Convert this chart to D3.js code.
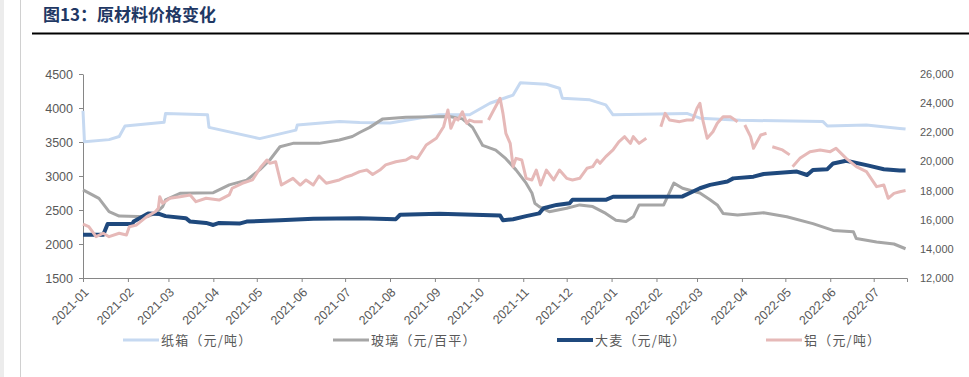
<!DOCTYPE html>
<html>
<head>
<meta charset="utf-8">
<script src="https://cdn.jsdelivr.net/npm/d3@7"></script>
<style>
  body { margin: 0; background: #fff; }
  svg { display: block; }
</style>
</head>
<body>
<svg id="chart" width="969" height="377"></svg>
<script>
// series: [date, value]
const paper = [
  ["2021-01-01", 3960], ["2021-01-02", 3505], ["2021-01-19", 3535], ["2021-01-26", 3580],
  ["2021-01-30", 3735], ["2021-02-26", 3790], ["2021-02-27", 3920], ["2021-03-28", 3900],
  ["2021-03-29", 3715], ["2021-05-03", 3550], ["2021-05-17", 3620], ["2021-05-28", 3675],
  ["2021-05-29", 3750], ["2021-06-27", 3800], ["2021-07-11", 3785], ["2021-08-01", 3780],
  ["2021-09-04", 3900], ["2021-09-25", 3900], ["2021-10-09", 4070], ["2021-10-25", 4190],
  ["2021-10-30", 4370], ["2021-11-17", 4350], ["2021-11-26", 4290], ["2021-11-28", 4145],
  ["2021-12-17", 4120], ["2021-12-28", 4045], ["2022-01-02", 3900], ["2022-02-22", 3920],
  ["2022-03-03", 3850], ["2022-03-31", 3820], ["2022-05-27", 3800], ["2022-05-30", 3735],
  ["2022-06-26", 3750], ["2022-07-19", 3700], ["2022-07-23", 3690]
];

const glass = [
  ["2021-01-01", 2795], ["2021-01-12", 2670], ["2021-01-19", 2475], ["2021-01-26", 2410],
  ["2021-02-14", 2400], ["2021-02-20", 2450], ["2021-02-25", 2550], ["2021-02-27", 2650],
  ["2021-03-09", 2745], ["2021-04-01", 2755], ["2021-04-12", 2870], ["2021-04-24", 2940],
  ["2021-05-03", 3090], ["2021-05-10", 3235], ["2021-05-17", 3430], ["2021-05-26", 3480],
  ["2021-06-13", 3480], ["2021-06-27", 3530], ["2021-07-06", 3580], ["2021-07-11", 3640],
  ["2021-07-18", 3715], ["2021-07-27", 3840], ["2021-08-12", 3865], ["2021-09-11", 3875],
  ["2021-09-20", 3840], ["2021-09-27", 3715], ["2021-10-04", 3450], ["2021-10-13", 3380],
  ["2021-10-20", 3255], ["2021-10-27", 3090], ["2021-11-03", 2895], ["2021-11-07", 2750],
  ["2021-11-09", 2600], ["2021-11-12", 2550], ["2021-11-19", 2475], ["2021-12-01", 2525],
  ["2021-12-10", 2575], ["2021-12-19", 2550], ["2021-12-28", 2450], ["2022-01-04", 2350],
  ["2022-01-11", 2330], ["2022-01-16", 2400], ["2022-01-20", 2575], ["2022-02-06", 2575],
  ["2022-02-13", 2895], ["2022-02-19", 2820], ["2022-03-03", 2750], ["2022-03-10", 2650],
  ["2022-03-15", 2575], ["2022-03-19", 2450], ["2022-03-29", 2425], ["2022-04-16", 2460],
  ["2022-05-02", 2400], ["2022-05-20", 2300], ["2022-06-03", 2200], ["2022-06-17", 2180],
  ["2022-06-19", 2080], ["2022-07-03", 2030], ["2022-07-15", 2000], ["2022-07-23", 1930]
];

const barley = [
  ["2021-01-01", 2135], ["2021-01-15", 2135], ["2021-01-18", 2295], ["2021-02-04", 2295],
  ["2021-02-05", 2330], ["2021-02-15", 2450], ["2021-02-23", 2440], ["2021-02-27", 2410],
  ["2021-03-13", 2380], ["2021-03-16", 2330], ["2021-03-27", 2310], ["2021-04-01", 2280],
  ["2021-04-05", 2310], ["2021-04-19", 2300], ["2021-04-24", 2330], ["2021-05-17", 2350],
  ["2021-06-09", 2370], ["2021-07-11", 2380], ["2021-08-05", 2365], ["2021-08-08", 2430],
  ["2021-09-04", 2445], ["2021-10-16", 2420], ["2021-10-18", 2350], ["2021-10-25", 2365],
  ["2021-11-03", 2410], ["2021-11-12", 2450], ["2021-11-15", 2525], ["2021-11-24", 2575],
  ["2021-12-03", 2600], ["2021-12-05", 2650], ["2021-12-28", 2650], ["2022-01-02", 2695],
  ["2022-02-19", 2700], ["2022-02-24", 2750], ["2022-03-03", 2820], ["2022-03-10", 2870],
  ["2022-03-22", 2920], ["2022-03-26", 2965], ["2022-04-09", 2990], ["2022-04-16", 3030],
  ["2022-05-09", 3065], ["2022-05-16", 3015], ["2022-05-20", 3090], ["2022-05-30", 3100],
  ["2022-06-03", 3185], ["2022-06-12", 3225], ["2022-06-26", 3160], ["2022-07-08", 3100],
  ["2022-07-19", 3080], ["2022-07-23", 3080]
];

// null = gap in the source data
const aluminium = [
  ["2021-01-01", 15700], ["2021-01-05", 15520], ["2021-01-10", 14835], ["2021-01-15", 15070],
  ["2021-01-19", 14835], ["2021-01-26", 15070], ["2021-01-31", 14950], ["2021-02-02", 15520],
  ["2021-02-07", 15640], ["2021-02-14", 16210], ["2021-02-20", 16550], ["2021-02-22", 16780],
  ["2021-02-23", 17580], ["2021-02-25", 17120], ["2021-03-02", 17470], ["2021-03-09", 17580],
  ["2021-03-16", 17700], ["2021-03-20", 17240], ["2021-03-27", 17470], ["2021-04-05", 17350],
  ["2021-04-12", 17700], ["2021-04-14", 18160], ["2021-04-21", 18500], ["2021-04-28", 18730],
  ["2021-05-04", 19640], ["2021-05-08", 20100], ["2021-05-10", 19870], ["2021-05-14", 19980],
  ["2021-05-18", 18380], ["2021-05-26", 18840], ["2021-05-31", 18380], ["2021-06-04", 18730],
  ["2021-06-09", 18380], ["2021-06-13", 19000], ["2021-06-18", 18500], ["2021-06-27", 18730],
  ["2021-07-02", 18950], ["2021-07-06", 19070], ["2021-07-11", 19300], ["2021-07-16", 19410],
  ["2021-07-20", 19100], ["2021-07-25", 19410], ["2021-07-29", 19760], ["2021-08-05", 19980],
  ["2021-08-12", 20100], ["2021-08-16", 20330], ["2021-08-20", 20200], ["2021-08-26", 21130],
  ["2021-09-02", 21590], ["2021-09-07", 22380], ["2021-09-10", 23530], ["2021-09-12", 22270],
  ["2021-09-15", 22960], ["2021-09-17", 22850], ["2021-09-20", 23410], ["2021-09-23", 22620],
  ["2021-09-25", 22840], ["2021-09-28", 22730], ["2021-10-04", 22730], ["2021-10-06", null],
  ["2021-10-08", 22840], ["2021-10-11", 23410], ["2021-10-16", 24330], ["2021-10-18", 23300],
  ["2021-10-20", 21930], ["2021-10-23", 21240], ["2021-10-25", 19640], ["2021-10-27", 20210],
  ["2021-10-31", 20100], ["2021-11-03", 18840], ["2021-11-07", 18730], ["2021-11-10", 19410],
  ["2021-11-13", 18380], ["2021-11-17", 19410], ["2021-11-22", 18730], ["2021-11-26", 19410],
  ["2021-12-01", 18840], ["2021-12-05", 18730], ["2021-12-10", 18840], ["2021-12-15", 19530],
  ["2021-12-19", 19640], ["2021-12-22", 20100], ["2021-12-24", 19870], ["2021-12-28", 20330],
  ["2022-01-02", 20790], ["2022-01-06", 21350], ["2022-01-10", 21700], ["2022-01-14", 21240],
  ["2022-01-16", 21700], ["2022-01-20", 21240], ["2022-01-25", 21590], ["2022-01-30", null],
  ["2022-02-04", 22380], ["2022-02-07", 23300], ["2022-02-10", 22840], ["2022-02-17", 22730],
  ["2022-02-22", 22840], ["2022-02-26", 22840], ["2022-03-01", 23650], ["2022-03-03", 23990],
  ["2022-03-05", 22840], ["2022-03-08", 21590], ["2022-03-12", 22040], ["2022-03-15", 22620],
  ["2022-03-19", 23070], ["2022-03-24", 23070], ["2022-03-29", 22730], ["2022-03-31", null],
  ["2022-04-03", 22500], ["2022-04-07", 21700], ["2022-04-09", 20900], ["2022-04-14", 21810],
  ["2022-04-18", 21930], ["2022-04-20", null], ["2022-04-22", 21010], ["2022-04-29", 20790],
  ["2022-05-04", 20450], ["2022-05-05", null], ["2022-05-06", 19640], ["2022-05-11", 20210],
  ["2022-05-18", 20670], ["2022-05-25", 20790], ["2022-06-01", 20670], ["2022-06-05", 20900],
  ["2022-06-12", 20210], ["2022-06-19", 19640], ["2022-06-26", 19300], ["2022-07-03", 18270],
  ["2022-07-08", 18380], ["2022-07-11", 17470], ["2022-07-15", 17810], ["2022-07-19", 17920],
  ["2022-07-23", 18000]
];

const leftTicks = [1500, 2000, 2500, 3000, 3500, 4000, 4500];
const rightTicks = [12000, 14000, 16000, 18000, 20000, 22000, 24000, 26000];
const seriesNames = ["纸箱（元/吨）", "玻璃（元/百平）", "大麦（元/吨）", "铝（元/吨）"];
const titleText = "图13：原材料价格变化";

const parse = d3.utcParse("%Y-%m-%d");
const svg = d3.select("#chart");

// page frame on the left
svg.append("rect").attr("x", 0).attr("y", 0).attr("width", 4).attr("height", 377).attr("fill", "#ececec");
svg.append("line").attr("x1", 20.5).attr("x2", 20.5).attr("y1", 0).attr("y2", 377)
  .attr("stroke", "#d0d0d0").attr("stroke-width", 1);

// title
svg.append("text")
  .attr("x", 43).attr("y", 21)
  .attr("font-family", "'Noto Sans CJK SC', sans-serif")
  .attr("font-weight", 700)
  .attr("font-size", 17)
  .attr("fill", "#1f3864")
  .text(titleText);
svg.append("line").attr("x1", 32).attr("x2", 969).attr("y1", 33.5).attr("y2", 33.5)
  .attr("stroke", "#000").attr("stroke-width", 2);

const x = d3.scaleUtc()
  .domain([parse("2021-01-01"), parse("2022-07-24")])
  .range([83, 907]);
const yLeft = d3.scaleLinear().domain([1500, 4500]).range([278, 74]);
const yRight = d3.scaleLinear().domain([12000, 26000]).range([278, 74]);

const tickColor = "#595959";

// x axis
const xAxis = d3.axisBottom(x)
  .tickValues(d3.utcMonth.range(parse("2021-01-01"), parse("2022-07-02")))
  .tickFormat(d3.utcFormat("%Y-%m"))
  .tickSizeOuter(0)
  .tickSize(4);
const gx = svg.append("g").attr("transform", "translate(0,278)").call(xAxis);
gx.select(".domain").attr("stroke", "#868686");
gx.selectAll(".tick line").attr("stroke", "#868686");
gx.selectAll(".tick text")
  .attr("font-family", "'Liberation Sans', Arial, sans-serif")
  .attr("font-size", 12.5)
  .attr("fill", tickColor)
  .attr("text-anchor", "end")
  .attr("dy", null)
  .attr("y", 0)
  .attr("transform", "translate(6,15) rotate(-45)");

// left axis
const yAxisL = d3.axisLeft(yLeft).tickValues(leftTicks).tickFormat(d3.format("d"))
  .tickSize(4).tickSizeOuter(0);
const gl = svg.append("g").attr("transform", "translate(83,0)").call(yAxisL);
gl.select(".domain").attr("stroke", "#868686");
gl.selectAll(".tick line").attr("stroke", "#868686");
gl.selectAll(".tick text")
  .attr("font-family", "'Liberation Sans', Arial, sans-serif")
  .attr("font-size", 12.5)
  .attr("fill", tickColor)
  .attr("x", -10);

// right axis, labels only
const yAxisR = d3.axisRight(yRight).tickValues(rightTicks).tickFormat(d3.format(",")).tickSize(0);
const gr = svg.append("g").attr("transform", "translate(920,0)").call(yAxisR);
gr.select(".domain").remove();
gr.selectAll(".tick text")
  .attr("font-family", "'Liberation Sans', Arial, sans-serif")
  .attr("font-size", 11)
  .attr("fill", tickColor)
  .attr("x", 0);

const lineL = d3.line()
  .defined(d => d[1] != null)
  .x(d => x(parse(d[0])))
  .y(d => yLeft(d[1]));
const lineR = d3.line()
  .defined(d => d[1] != null)
  .x(d => x(parse(d[0])))
  .y(d => yRight(d[1]));

const series = [
  { data: paper, line: lineL, color: "#c6d9f1", width: 3 },
  { data: glass, line: lineL, color: "#a6a6a6", width: 3 },
  { data: barley, line: lineL, color: "#1f497d", width: 4 },
  { data: aluminium, line: lineR, color: "#e6b9b8", width: 3 }
];

svg.append("g").selectAll("path")
  .data(series)
  .join("path")
  .attr("d", s => s.line(s.data))
  .attr("fill", "none")
  .attr("stroke", s => s.color)
  .attr("stroke-width", s => s.width)
  .attr("stroke-linejoin", "round");

// legend
const legendX = [123, 333, 557, 766];
const legend = svg.append("g").selectAll("g")
  .data(series)
  .join("g")
  .attr("transform", (s, i) => `translate(${legendX[i]},340)`);
legend.append("line")
  .attr("x1", 0).attr("x2", 36).attr("y1", 0).attr("y2", 0)
  .attr("stroke", s => s.color)
  .attr("stroke-width", s => s.width);
legend.append("text")
  .attr("x", 38).attr("y", 0).attr("dy", "0.35em")
  .attr("font-family", "'Noto Sans CJK SC', sans-serif")
  .attr("font-size", 13)
  .attr("letter-spacing", 1.2)
  .attr("fill", tickColor)
  .text((s, i) => seriesNames[i]);
</script>
</body>
</html>
